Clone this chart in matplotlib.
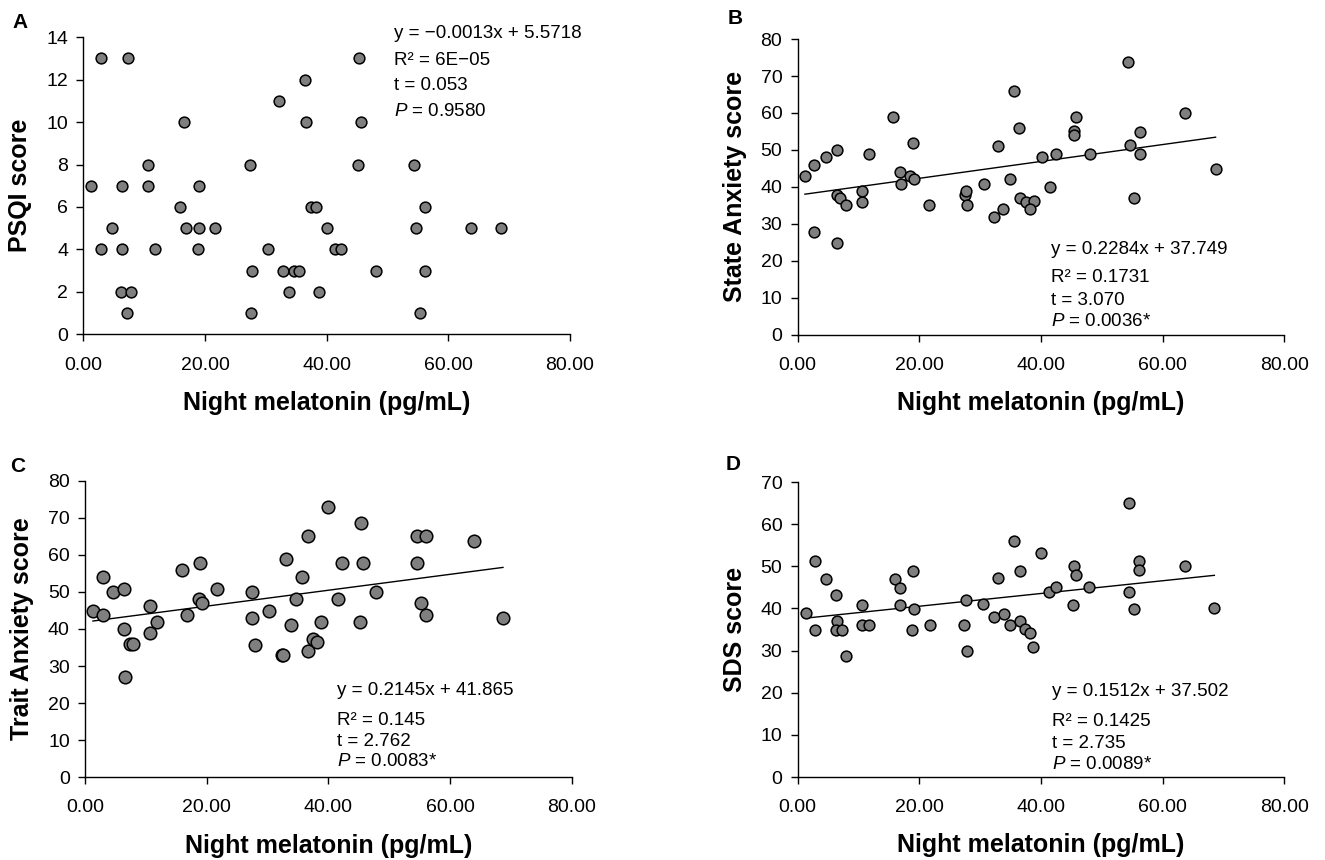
import matplotlib
matplotlib.use('Agg')
import matplotlib.pyplot as plt

plt.rcParams['font.family'] = ['Liberation Sans', 'DejaVu Sans']
plt.rcParams['mathtext.fontset'] = 'custom'
plt.rcParams['mathtext.rm'] = 'Liberation Sans'
plt.rcParams['mathtext.it'] = 'Liberation Sans:italic'

# Panel A: PSQI score vs night melatonin
xa = [1.3, 2.9, 7.3, 2.9, 4.7, 6.3, 6.3, 6.2, 7.9, 7.2, 10.6, 10.6, 11.7, 16.6, 15.9, 16.9,
      19.0, 19.0, 18.8, 21.6, 27.4, 27.8, 27.5, 30.4, 32.1, 32.9, 33.8, 34.7, 35.4, 36.5, 36.6,
      37.5, 38.2, 38.7, 40.0, 41.4, 42.4, 45.3, 45.7, 45.2, 48.1, 54.4, 56.1, 54.7, 63.7, 68.6,
      56.1, 55.3]
ya = [7, 13, 13, 4, 5, 7, 4, 2, 2, 1, 8, 7, 4, 10, 6, 5,
      7, 5, 4, 5, 8, 3, 1, 4, 11, 3, 2, 3, 3, 12, 10,
      6, 6, 2, 5, 4, 4, 13, 10, 8, 3, 8, 6, 5, 5, 5,
      3, 1]

# Panel B: State anxiety
xb = [1.2, 2.7, 2.7, 4.6, 6.4, 6.4, 7.0, 7.9, 6.4, 11.8, 10.6, 10.6, 15.7, 16.9, 17.0, 19.0,
      18.5, 19.1, 21.6, 27.5, 27.7, 27.8, 30.6, 32.2, 32.9, 33.8, 34.9, 35.6, 36.4, 36.6, 37.5,
      38.9, 38.2, 40.1, 42.4, 41.4, 45.8, 45.4, 45.4, 48.0, 54.3, 54.7, 56.2, 56.2, 55.3, 63.7,
      68.7]
yb = [43.0, 45.9, 27.9, 48.0, 49.9, 37.8, 37.1, 35.0, 24.9, 49.0, 38.9, 35.9, 58.9, 44.0, 40.8, 52.0,
      43.0, 42.0, 35.0, 37.8, 38.9, 35.0, 40.9, 31.9, 51.0, 33.9, 42.0, 65.9, 56.0, 36.9, 35.9,
      36.2, 33.9, 48.0, 48.9, 40.1, 58.9, 55.1, 54.0, 49.0, 73.8, 51.2, 54.8, 49.0, 36.9, 59.9,
      44.8]

# Panel C: Trait anxiety
xc = [1.3, 2.9, 3.0, 4.6, 6.4, 6.4, 7.4, 7.9, 6.5, 10.6, 10.6, 11.9, 15.9, 16.7, 18.9, 18.7,
      19.3, 21.7, 27.4, 27.4, 27.9, 30.3, 32.4, 32.5, 33.0, 33.9, 34.7, 35.6, 36.6, 36.7, 37.5,
      38.2, 38.8, 40.0, 41.5, 42.2, 45.4, 45.7, 45.2, 47.9, 54.5, 56.1, 63.9, 54.5, 55.2, 56.1,
      68.7]
yc = [44.8, 43.9, 54.1, 49.9, 50.8, 40.1, 35.9, 35.9, 27.0, 46.2, 39.0, 41.9, 55.9, 43.9, 57.8, 48.0,
      46.9, 50.8, 49.9, 43.0, 35.8, 44.9, 32.9, 33.1, 58.9, 41.0, 48.0, 53.9, 65.0, 34.0, 37.2,
      36.6, 41.9, 72.8, 48.1, 57.8, 68.7, 57.8, 41.9, 49.9, 65.0, 65.0, 63.8, 57.8, 47.0, 43.7,
      42.9]

# Panel D: SDS
xd = [1.3, 2.9, 2.8, 4.7, 6.3, 6.4, 6.3, 7.3, 7.9, 10.6, 10.5, 11.8, 16.0, 16.8, 16.9, 19.0,
      19.2, 18.8, 21.7, 27.6, 27.4, 27.8, 30.4, 32.2, 33.0, 33.9, 34.9, 35.6, 36.6, 36.6, 37.4,
      38.2, 38.7, 40.0, 41.3, 42.4, 45.2, 45.4, 45.7, 47.9, 54.4, 54.5, 55.3, 56.1, 56.1, 63.6,
      68.5]
yd = [39.0, 51.3, 35.0, 47.0, 43.1, 37.1, 35.0, 35.0, 28.8, 40.8, 36.0, 36.0, 47.0, 44.9, 40.9, 49.0,
      39.9, 35.0, 36.0, 42.1, 36.0, 29.9, 41.1, 38.0, 47.3, 38.8, 36.0, 56.0, 49.0, 37.0, 35.2,
      34.1, 30.8, 53.1, 43.9, 45.1, 40.9, 50.0, 48.0, 45.1, 65.0, 43.9, 39.8, 51.2, 49.2, 50.1,
      40.0]

panels = [
    dict(letter='A', x=xa, y=ya, ylabel='PSQI score', ymax=14, ystep=2, fit=None,
         text=['y = \u22120.0013x + 5.5718', 'R\u00b2 = 6E\u221205', 't = 0.053', '$P$ = 0.9580'],
         rect=[0.0629, 0.6113, 0.3673, 0.3454], tx=0.639, ty=[1.013, 0.923, 0.836, 0.749], ms=60),
    dict(letter='B', x=xb, y=yb, ylabel='State Anxiety score', ymax=80, ystep=10, fit=(0.2284, 37.749),
         text=['y = 0.2284x + 37.749', 'R\u00b2 = 0.1731', 't = 3.070', '$P$ = 0.0036*'],
         rect=[0.6020, 0.6108, 0.3673, 0.3438], tx=0.520, ty=[0.289, 0.193, 0.117, 0.044], ms=60),
    dict(letter='C', x=xc, y=yc, ylabel='Trait Anxiety score', ymax=80, ystep=10, fit=(0.2145, 41.865),
         text=['y = 0.2145x + 41.865', 'R\u00b2 = 0.145', 't = 2.762', '$P$ = 0.0083*'],
         rect=[0.0642, 0.0962, 0.3673, 0.3449], tx=0.518, ty=[0.292, 0.193, 0.120, 0.053], ms=82),
    dict(letter='D', x=xd, y=yd, ylabel='SDS score', ymax=70, ystep=10, fit=(0.1512, 37.502),
         text=['y = 0.1512x + 37.502', 'R\u00b2 = 0.1425', 't = 2.735', '$P$ = 0.0089*'],
         rect=[0.6020, 0.0965, 0.3673, 0.3430], tx=0.523, ty=[0.289, 0.187, 0.114, 0.041], ms=60),
]
letter_pos = {'A': (20, 23), 'B': (735, 18), 'C': (18, 467), 'D': (733, 465)}

fig = plt.figure(figsize=(13.25, 8.6), dpi=100)
for p in panels:
    ax = fig.add_axes(p['rect'])
    ax.scatter(p['x'], p['y'], s=p['ms'], facecolor='#7f7f7f', edgecolor='black',
               linewidth=1.1, zorder=3, clip_on=False)
    if p['fit'] is not None:
        m, b = p['fit']
        x0, x1 = min(p['x']), max(p['x'])
        ax.plot([x0, x1], [m * x0 + b, m * x1 + b], color='black', lw=1.0, zorder=2)
    ax.set_xlim(0, 80)
    ax.set_ylim(0, p['ymax'])
    ax.set_xticks(range(0, 81, 20))
    ax.set_xticklabels(['%.2f' % v for v in range(0, 81, 20)])
    ax.set_yticks(range(0, p['ymax'] + 1, p['ystep']))
    for s in ['top', 'right']:
        ax.spines[s].set_visible(False)
    for s in ['left', 'bottom']:
        ax.spines[s].set_linewidth(1.0)
    ax.tick_params(axis='both', direction='out', length=5, width=1.0, labelsize=14)
    ax.tick_params(axis='x', pad=11)
    ax.tick_params(axis='y', pad=6)
    ax.set_xlabel('Night melatonin (pg/mL)', fontsize=18, fontweight='bold')
    ax.set_ylabel(p['ylabel'], fontsize=18, fontweight='bold')
    ax.xaxis.set_label_coords(0.5, -0.19)
    ax.yaxis.set_label_coords(-0.105, 0.5)
    for txt, yy in zip(p['text'], p['ty']):
        ax.text(p['tx'], yy, txt, transform=ax.transAxes, fontsize=13.5, va='center', ha='left')
    lx, ly = letter_pos[p['letter']]
    fig.text(lx / 1325, 1 - ly / 860, p['letter'], fontsize=15, fontweight='bold',
             ha='center', va='center')

fig.savefig('out.png', dpi=100)
